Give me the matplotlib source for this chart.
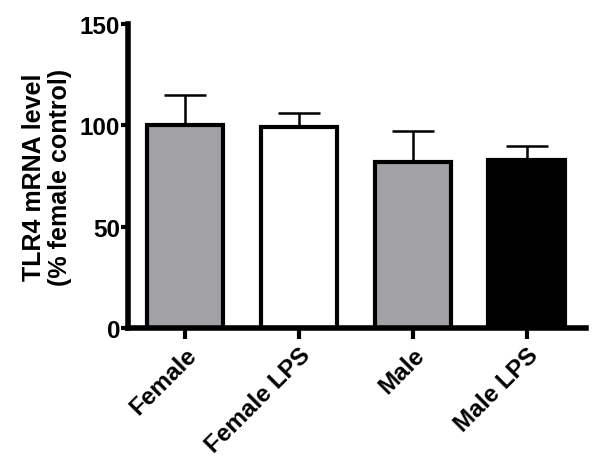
import matplotlib
matplotlib.use("Agg")
import matplotlib.pyplot as plt
import numpy as np

plt.rcParams['font.family'] = ['Liberation Sans', 'DejaVu Sans']
plt.rcParams['font.weight'] = 'bold'

groups = ["Female", "Female LPS", "Male", "Male LPS"]
means = [100, 99, 82, 83]
errs = [15, 7, 15, 7]
fills = ["#a2a1a6", "#ffffff", "#a2a1a6", "#000000"]

fig = plt.figure(figsize=(6, 4.64), dpi=100)
ax = fig.add_axes([0.2133, 0.291, 0.763, 0.655])

x = np.arange(len(groups))
ax.bar(x, means, width=0.67, color=fills, edgecolor="black", linewidth=3, zorder=2)
# upper error bars only
ax.errorbar(x, means, yerr=[np.zeros(len(errs)), errs], fmt="none",
            ecolor="black", elinewidth=1.8, capsize=15, capthick=1.8, zorder=1)

ax.set_xlim(-0.5, 3.52)
ax.set_ylim(0, 150)
ax.set_yticks([0, 50, 100, 150])
ax.set_xticks(x)
ax.set_xticklabels(groups, rotation=45, ha="right", rotation_mode="anchor",
                   fontsize=17.5, fontweight="bold")
ax.tick_params(axis="y", labelsize=17.5, width=3, length=5, pad=0.5)
ax.tick_params(axis="x", width=3, length=8, pad=3)
for lab in ax.get_yticklabels():
    lab.set_fontweight("bold")

ax.spines["top"].set_visible(False)
ax.spines["right"].set_visible(False)
ax.spines["left"].set_linewidth(4)
ax.spines["bottom"].set_linewidth(4)

ax.set_ylabel("TLR4 mRNA level\n(% female control)", fontsize=18,
              fontweight="bold", labelpad=6, linespacing=1.1)

fig.savefig("out.png", dpi=100)
